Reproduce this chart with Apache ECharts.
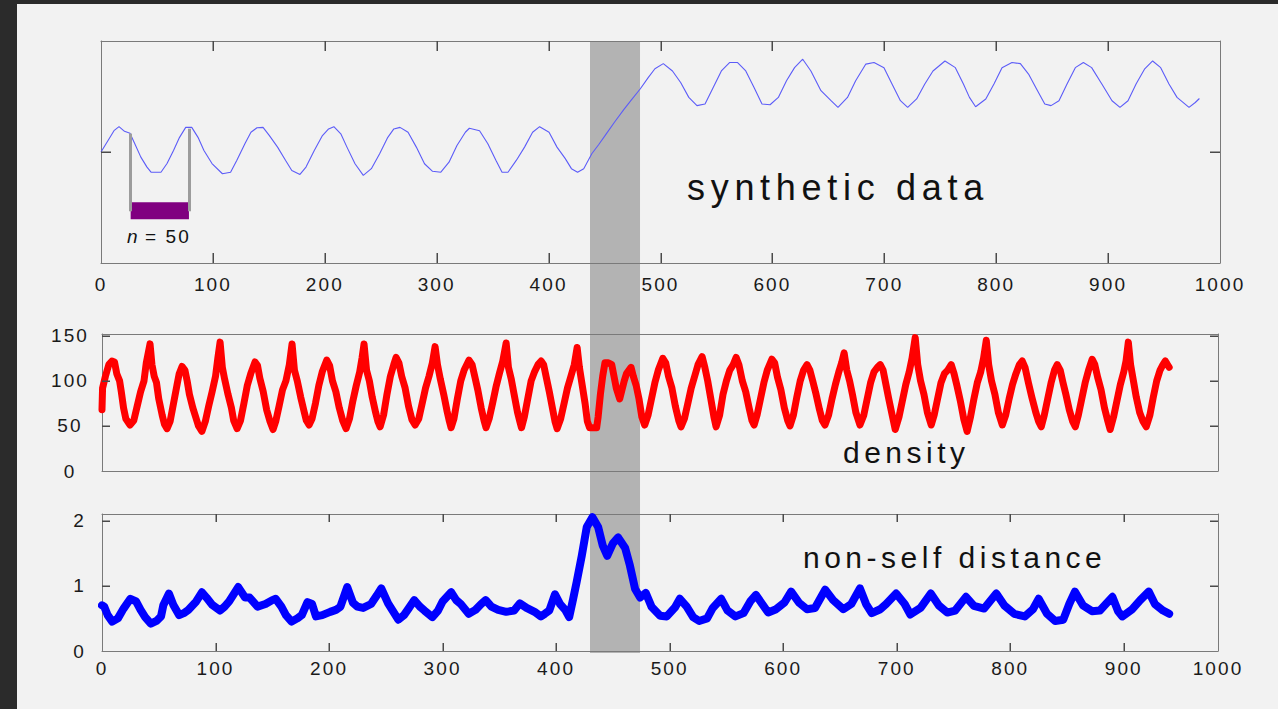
<!DOCTYPE html>
<html><head><meta charset="utf-8">
<script src="https://cdn.jsdelivr.net/npm/echarts@6/dist/echarts.min.js"></script>
<style>
html,body{margin:0;padding:0;background:#f2f2f2;overflow:hidden;}
#chart{position:absolute;left:0;top:0;width:1278px;height:709px;}
.frameL{position:absolute;left:0;top:0;width:17px;height:709px;background:#2b2b2b;}
.frameT{position:absolute;left:0;top:0;width:1278px;height:4px;background:#2b2b2b;}
#chart svg text{letter-spacing:2.1px;}
#chart svg text[style*="36px"]{letter-spacing:5.7px;}
#chart svg text[style*="30px"]{letter-spacing:4.5px;}
</style></head>
<body>
<div id="chart"></div><div class="frameL"></div><div class="frameT"></div>
<script>
// ---------- data ----------
const synthetic = [[0,0.0],[6.3,0.52],[11.6,0.96],[16.1,1.14],[21,0.93],[25.9,0.84],[30.1,0.38],[35.6,-0.23],[41.1,-0.68],[44.7,-0.91],[53.6,-0.91],[59,-0.52],[64.8,0.07],[70.2,0.66],[75.7,1.11],[81.1,1.11],[86.7,0.66],[92,0.07],[99.2,-0.52],[108.5,-0.98],[115.8,-0.91],[121.3,-0.38],[128.7,0.38],[134,0.89],[139.4,1.09],[144.8,1.11],[150.5,0.74],[157.8,0.22],[165,-0.38],[170.5,-0.83],[177.8,-1.01],[183.2,-0.68],[190.6,0.07],[197.9,0.74],[203.4,1.04],[208.1,1.14],[214.3,0.82],[219.8,0.22],[227,-0.53],[234.4,-1.05],[241.6,-0.75],[249,-0.08],[256.3,0.66],[261.7,1.04],[267.2,1.11],[274.4,0.89],[281.8,0.22],[289.1,-0.53],[296.3,-0.87],[303.7,-0.91],[311,-0.46],[318.1,0.29],[325.6,0.89],[329.2,1.07],[338.3,0.96],[345.7,0.37],[353,-0.38],[358.4,-0.91],[363.7,-0.91],[371.1,-0.38],[378.5,0.22],[385.7,0.89],[392,1.14],[400.4,0.89],[407.5,0.22],[414.9,-0.30],[420.4,-0.75],[425.9,-0.91],[431.4,-0.75],[438.6,-0.08],[445,0.35],[452,0.85],[459,1.35],[467,1.9],[474,2.35],[482,2.85],[489,3.35],[495,3.75],[502.5,3.98],[510.7,3.65],[518,3.13],[525.3,2.46],[532.6,2.09],[539.8,2.16],[547.1,2.91],[554.4,3.65],[561.7,4.03],[568.9,4.03],[576.2,3.65],[583.6,2.91],[590.7,2.16],[597.9,2.13],[605.3,2.46],[612.6,3.21],[619.8,3.80],[627.1,4.18],[634.4,3.65],[643.4,2.76],[652.4,2.31],[658.6,2.01],[667.1,2.46],[674.4,3.21],[683.5,3.96],[690.8,4.03],[699.7,3.80],[706.9,3.06],[714.4,2.31],[720.9,2.01],[728.9,2.39],[736.2,3.06],[743.5,3.65],[754.2,4.10],[763.5,3.80],[770.7,3.06],[776.1,2.46],[781.6,2.04],[790.7,2.39],[798,3.06],[805.2,3.80],[814.1,4.03],[821.6,3.98],[828.9,3.51],[836.2,2.83],[843.4,2.16],[849,2.09],[856.1,2.31],[863.3,3.06],[870.7,3.80],[877.9,4.03],[885.3,3.80],[894.4,3.06],[903.5,2.31],[910.6,2.01],[917.8,2.31],[925,3.06],[932.5,3.73],[939.8,4.10],[947,3.80],[954.4,3.06],[961.6,2.46],[972.3,2.01],[977.9,2.23],[981.6,2.41]];

const density = [[0,68],[0.5,92],[3,105],[6,118],[8.8,122],[11,121],[13,108],[15.5,100],[17,88],[19,70],[21,58],[24.7,51],
[28,56],[31,72],[34,88],[37,100],[39,120],[42.3,141],[44,118],[46,105],[48,98],[50,80],[53,62],[55,52],[57.3,47],
[60,55],[63,75],[66,95],[68,108],[70.5,116],[73,112],[75,100],[77,85],[80,70],[83,58],[85,50],[88,44],
[91,55],[94,72],[97,88],[100,105],[102,125],[104,143],[106,115],[108,102],[111,85],[114,70],[116,56],[119,47],
[122,56],[125,75],[128,95],[131,108],[134.8,121],[137,117],[139,103],[142,88],[145,68],[148,55],[150.7,46],
[153,55],[156,72],[159,90],[162,100],[165,118],[167.4,141],[169.5,112],[172,100],[175,82],[178,66],[180,56],[182.4,51],
[185,58],[188,75],[191,95],[194,110],[198,123],[200.5,117],[203,100],[206,88],[209,70],[212,56],[215,47],
[218,58],[221,78],[224,95],[227,110],[229,125],[230.8,141],[233,112],[235.5,100],[238,82],[241,65],[243,55],[245,49],
[248,62],[251,85],[254,105],[257,118],[259,126],[261.5,120],[264,105],[267,92],[270,72],[273,57],[275.8,51],
[279,58],[282,75],[285,92],[288,105],[291,120],[293.4,138],[295.5,118],[298,102],[301,85],[304,66],[306,55],[307.5,48],
[310,58],[313,80],[316,100],[319,112],[323.3,123],[326,118],[328.5,104],[331,90],[334,70],[336.5,56],[338.3,48],
[341,58],[344,75],[347,93],[350,108],[353,122],[356,142],[358,115],[360.5,102],[363,85],[366,65],[368,55],[369.5,48],
[372,60],[375,80],[378,100],[381,110],[384,118],[386.8,122],[389,118],[391.5,103],[394,88],[397,68],[399,55],[400.9,47],
[404,58],[407,75],[410,92],[413,105],[416,118],[418.5,137],[420.5,115],[423,95],[425.5,75],[427.5,55],[429.5,48],[435.7,48],
[437,60],[439,85],[441,105],[443,120],[446,120],[449,118],[451,105],[453,92],[456,80],[458,90],[460,100],[462,108],[466,115],[468,105],[470.5,95],[473,80],[475.5,60],[478,51],
[481,62],[484,80],[487,98],[490,112],[494,125],[496.5,120],[499,105],[502,92],[505,72],[508,56],[510,49],
[513,58],[516,75],[519,92],[522,105],[525,118],[528.6,127],[531,115],[533.5,100],[536,82],[539,60],[540.9,49],
[544,62],[547,85],[550,100],[553,112],[556,118],[558.6,126],[561,118],[564,100],[567,88],[570,70],[572.5,56],[574.4,51],
[577,62],[580,80],[583,98],[586,112],[590,124],[592.5,120],[595,104],[598,90],[601,70],[604,56],[606,50],
[609,62],[612,82],[615,100],[618,112],[621,118],[623.5,112],[626,100],[629,85],[632,68],[634.5,56],[636.8,51],
[640,62],[643,80],[646,96],[649,110],[651.5,120],[653.7,131],[656,112],[658.5,100],[661,85],[664,65],[667.6,51],
[671,62],[674,80],[677,98],[680,110],[683,115],[685.5,118],[688,112],[690.5,96],[693,80],[696,62],[698.7,46],
[702,60],[705,78],[708,96],[711,110],[713.5,125],[716.3,148],[718.5,118],[721,100],[724,85],[727,65],[730.4,51],
[733,62],[736,80],[739,98],[742,108],[745,112],[748,118],[750.5,108],[753,95],[756,78],[759,58],[762,44],
[765,60],[768,80],[771,98],[774,110],[776.5,125],[778.9,145],[781,118],[783.5,100],[786.5,85],[789.5,65],[793,51],
[796,62],[799,80],[802,96],[805,108],[808,118],[810.6,122],[813,115],[816,98],[819,82],[822.5,65],[825,55],[827.3,49],
[830,62],[833,80],[836,98],[839,112],[841.4,118],[844,112],[846.5,98],[849,85],[852,68],[855,55],[857.3,49],
[860,62],[863,80],[866,98],[869,112],[872.2,124],[874.5,118],[877,104],[880,90],[883,70],[886,55],[888,46],
[891,60],[894,78],[897,96],[900,110],[902,122],[904,143],[906,118],[908.5,100],[911,82],[914,65],[917,55],[919.8,49],
[923,62],[926,82],[929,100],[932,112],[934.5,118],[936.6,122],[938.5,118],[940,115]];

const nonSelf = [[0,0.70],[2,0.68],[5,0.55],[9,0.45],[14,0.50],[19,0.65],[25,0.80],[30,0.76],[34,0.63],[38,0.52],[43,0.42],[48,0.46],[52,0.53],[54,0.70],[59,0.88],[63,0.70],[68,0.55],[72,0.58],[76,0.63],[83,0.76],[88,0.90],[92,0.82],[97,0.71],[104,0.62],[108,0.68],[112,0.76],[120,0.98],[126,0.82],[130,0.82],[137,0.68],[144,0.72],[150,0.78],[153,0.80],[158,0.68],[162,0.55],[167,0.45],[172,0.50],[176,0.55],[181,0.75],[185,0.72],[188.5,0.53],[194,0.55],[201,0.60],[206,0.63],[210,0.68],[216,0.98],[221,0.74],[225,0.68],[230,0.66],[237,0.72],[242,0.85],[246,0.96],[252,0.73],[256,0.62],[261,0.48],[266,0.55],[270,0.65],[275,0.78],[280,0.68],[284,0.62],[291,0.52],[296,0.62],[300,0.76],[307.5,0.90],[312,0.78],[316,0.72],[323,0.57],[329,0.63],[334,0.72],[338,0.78],[343,0.68],[349,0.63],[356,0.60],[363,0.62],[368,0.73],[374,0.66],[381,0.60],[386.6,0.53],[390,0.57],[394,0.62],[399,0.87],[403.5,0.72],[408,0.63],[411.5,0.52],[415,0.80],[418,1.05],[422.6,1.46],[427,1.90],[432,2.05],[437,1.90],[441,1.62],[445,1.46],[450,1.65],[454.6,1.74],[460.8,1.58],[465,1.31],[469.6,0.95],[474,0.82],[479,0.89],[484,0.68],[491.6,0.54],[497.5,0.53],[504.8,0.67],[509,0.80],[515,0.68],[520.7,0.52],[526,0.46],[533,0.50],[538,0.66],[545.4,0.80],[551,0.62],[558,0.53],[565,0.58],[571,0.76],[576,0.86],[581.5,0.72],[586.8,0.59],[593.8,0.64],[601,0.74],[607,0.91],[614,0.74],[621,0.64],[628,0.66],[637,0.94],[644,0.78],[653,0.64],[660,0.72],[667.6,0.96],[673,0.72],[678,0.58],[685.5,0.64],[690.7,0.72],[699.5,0.88],[707,0.72],[712,0.56],[721,0.66],[730,0.88],[737,0.70],[744.5,0.59],[751.5,0.62],[761,0.83],[768,0.69],[777,0.65],[787.7,0.88],[794.7,0.70],[803.5,0.57],[812.8,0.53],[820,0.64],[825,0.80],[832.4,0.57],[839.6,0.46],[846.7,0.48],[852,0.72],[857,0.91],[864,0.70],[872,0.61],[879,0.62],[890,0.83],[895,0.61],[898.7,0.53],[907.5,0.64],[914.5,0.78],[922,0.91],[927.4,0.72],[934.6,0.62],[940,0.57]];

// window annotation (top-axis units) and shaded interval
const windowX = [26.5, 78.6];
const windowTop = [0.83, 1.05];
const windowBottom = -2.67;
const windowBar = [-2.26, -3.03];
const shadeRange = [437, 481.7];
const topXRange = [0, 1000];
const lowXRange = [0, 983];
const topYRange = [-5, 5];
const densityRange = [0, 152];
const distanceRange = [0, 2.1];
const xTickValues = [100, 200, 300, 400, 500, 600, 700, 800, 900];
const topYTickValues = [0];
const densityTickValues = [50, 100, 150];
const distanceTickValues = [1, 2];
const texts = ['synthetic data', 'density', 'non-self distance', '{i|n} = 50'];

// ---------- chart ----------
const AX = '#7a7a7a';
const TICK = '#4a4a4a';
const FONT = "'Liberation Sans', Arial, sans-serif";
const lbl = {fontFamily: FONT, fontSize: 19, color: '#1a1a1a'};
const axLine = () => ({show: true, onZero: false, lineStyle: {color: AX, width: 1}});

function xa(grid, pos, range, o) {
  return Object.assign({
    type: 'value', gridIndex: grid, position: pos, min: range[0], max: range[1], interval: 100,
    axisLine: axLine(), splitLine: {show: false}, axisTick: {show: false}, axisLabel: {show: false}
  }, o || {});
}
function ya(grid, pos, range, interval, o) {
  return Object.assign({
    type: 'value', gridIndex: grid, position: pos, min: range[0], max: range[1], interval: interval,
    axisLine: axLine(), splitLine: {show: false}, axisTick: {show: false}, axisLabel: {show: false}
  }, o || {});
}

const chart = echarts.init(document.getElementById('chart'), null, {renderer: 'svg', width: 1278, height: 709});
const option = {
  animation: false,
  backgroundColor: '#f2f2f2',
  grid: [
    {left: 101, top: 41, width: 1119, height: 222},
    {left: 102, top: 334, width: 1116, height: 137},
    {left: 102, top: 514, width: 1116, height: 137}
  ],
  xAxis: [
    xa(0, 'bottom', topXRange, {axisLabel: Object.assign({show: true, margin: 12, showMinLabel: true,
      showMaxLabel: true, formatter: v => String(v)}, lbl)}),
    xa(0, 'top', topXRange),
    xa(1, 'bottom', lowXRange),
    xa(1, 'top', lowXRange),
    xa(2, 'bottom', lowXRange, {axisLabel: Object.assign({show: true, margin: 8, showMaxLabel: true,
      formatter: v => (v > 950 ? '1000' : String(v))}, lbl)}),
    xa(2, 'top', lowXRange)
  ],
  yAxis: [
    ya(0, 'left', topYRange, 5),
    ya(0, 'right', topYRange, 5),
    ya(1, 'left', densityRange, 50,
      {axisLabel: Object.assign({show: true, align: 'center', margin: 32, showMaxLabel: false}, lbl)}),
    ya(1, 'right', densityRange, 50),
    ya(2, 'left', distanceRange, 1,
      {axisLabel: Object.assign({show: true, margin: 16, showMaxLabel: false}, lbl)}),
    ya(2, 'right', distanceRange, 1)
  ],
  series: [
    {
      name: 'synthetic data', type: 'line', xAxisIndex: 0, yAxisIndex: 0, data: synthetic,
      showSymbol: false, symbol: 'none', z: 3,
      lineStyle: {color: '#5c5cf8', width: 1.1},
      markLine: {
        silent: true, symbol: ['none', 'none'], label: {show: false},
        lineStyle: {color: '#9c9c9c', width: 3, type: 'solid'},
        data: [
          [{coord: [windowX[0], windowTop[0]]}, {coord: [windowX[0], windowBottom]}],
          [{coord: [windowX[1], windowTop[1]]}, {coord: [windowX[1], windowBottom]}]
        ]
      },
      markArea: {
        silent: true, itemStyle: {color: '#800080', opacity: 1},
        data: [[{coord: [windowX[0], windowBar[0]]}, {coord: [windowX[1], windowBar[1]]}]]
      }
    },
    {
      name: 'density', type: 'line', xAxisIndex: 2, yAxisIndex: 2, data: density,
      showSymbol: false, symbol: 'none', z: 3,
      lineStyle: {color: '#ff0000', width: 7, cap: 'round', join: 'round'}
    },
    {
      name: 'non-self distance', type: 'line', xAxisIndex: 4, yAxisIndex: 4, data: nonSelf,
      showSymbol: false, symbol: 'none', z: 3,
      lineStyle: {color: '#0000ff', width: 8, cap: 'round', join: 'round'}
    }
  ]
};
chart.setOption(option);

// inward tick marks on all four sides, as thin filled rects placed through the axis scales
const px = (xi, v) => chart.convertToPixel({xAxisIndex: xi}, v);
const py = (yi, v) => chart.convertToPixel({yAxisIndex: yi}, v);
const tickRects = [];
function xTicks(xi, yi, values, yr, len) {
  const yb = py(yi, yr[0]), yt = py(yi, yr[1]);
  values.forEach(v => {
    const x = Math.round(px(xi, v));
    tickRects.push({x: x - 0.5, y: yb - len, width: 1.5, height: len});
    tickRects.push({x: x - 0.5, y: yt, width: 1.5, height: len});
  });
}
function yTicks(xi, yi, values, xr, len) {
  const xl = px(xi, xr[0]), xr1 = px(xi, xr[1]);
  values.forEach(v => {
    const y = Math.round(py(yi, v));
    tickRects.push({x: xl, y: y - 0.5, width: len, height: 1.5});
    tickRects.push({x: xr1 - len, y: y - 0.5, width: len, height: 1.5});
  });
}
xTicks(0, 0, xTickValues, topYRange, 10);
yTicks(0, 0, topYTickValues, topXRange, 10);
yTicks(2, 2, densityTickValues, lowXRange, 8);
xTicks(4, 4, xTickValues, distanceRange, 8);
yTicks(4, 4, distanceTickValues, lowXRange, 8);

// shaded interval spanning all three panels, positioned through the axes
const sx0 = px(0, shadeRange[0]);
const sx1 = px(0, shadeRange[1]);
const sy0 = py(0, topYRange[1]);
const sy1 = py(4, distanceRange[0]);
const tStyle = (size) => ({fontFamily: FONT, fontSize: size, fill: '#111', align: 'left', verticalAlign: 'middle'});
const graphics = [
  {type: 'rect', silent: true, z: -10, shape: {x: sx0, y: sy0 + 1, width: sx1 - sx0, height: sy1 - sy0 + 1},
    style: {fill: '#b3b3b3'}},
  {type: 'text', silent: true, x: 687, y: 187, style: Object.assign({text: texts[0]}, tStyle(36))},
  {type: 'text', silent: true, x: 843, y: 452, style: Object.assign({text: texts[1]}, tStyle(30))},
  {type: 'text', silent: true, x: 803, y: 557, style: Object.assign({text: texts[2]}, tStyle(30))},
  {type: 'text', silent: true, x: 127, y: 236, style: Object.assign({text: texts[3],
    rich: {i: {fontStyle: 'italic', fontFamily: FONT, fontSize: 19, fill: '#111'}}}, tStyle(19))}
];
tickRects.forEach(r => graphics.push({type: 'rect', silent: true, z: 100, shape: r, style: {fill: TICK}}));
chart.setOption({graphic: graphics});
</script>
</body></html>
